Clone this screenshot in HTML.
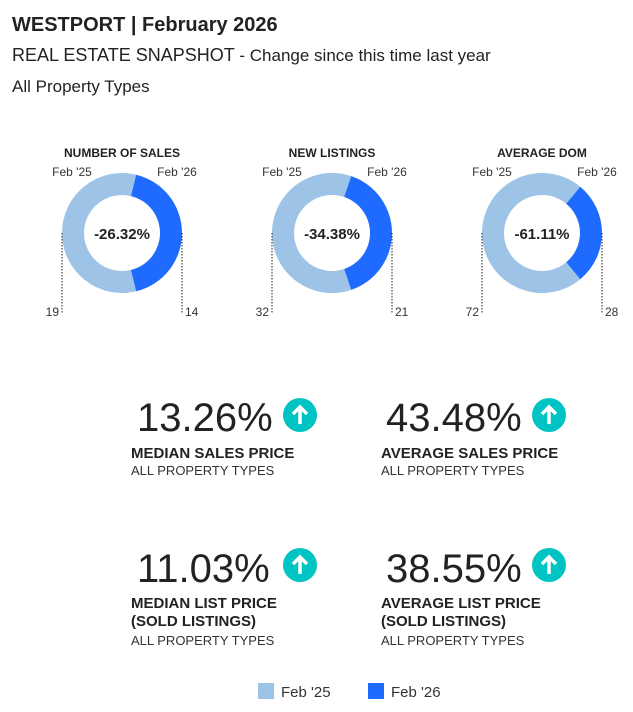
<!DOCTYPE html>
<html><head><meta charset="utf-8">
<style>
body{margin:0;width:633px;height:712px;background:#fff;font-family:"Liberation Sans",Arial,sans-serif;color:#222;position:relative;overflow:hidden}
.a{position:absolute;white-space:nowrap}
.big{font-size:40px;color:#222}
.lbl{font-size:15px;font-weight:bold;color:#222;line-height:18px}
.sub{font-size:13px;color:#333}
.arrow{position:absolute;width:34px;height:34px;border-radius:50%;background:#00c4c4}
</style></head><body>
<div class="a" style="left:12px;top:14px;font-size:20px;font-weight:bold">WESTPORT | February 2026</div>
<div class="a" style="left:12px;top:45px;font-size:18px">REAL ESTATE SNAPSHOT <span style="font-size:17px">- Change since this time last year</span></div>
<div class="a" style="left:12px;top:77px;font-size:17px">All Property Types</div>
<svg id="donuts" width="633" height="340" style="position:absolute;left:0;top:0"></svg>

<div class="a big" style="left:137px;top:396px">13.26%</div>
<div class="arrow" style="left:283px;top:398px"><svg width="34" height="34"><path d="M17 26V9M10 16l7-7 7 7" stroke="#fff" stroke-width="3.5" fill="none"/></svg></div>
<div class="a lbl" style="left:131px;top:445px">MEDIAN SALES PRICE</div>
<div class="a sub" style="left:131px;top:463px">ALL PROPERTY TYPES</div>

<div class="a big" style="left:386px;top:396px">43.48%</div>
<div class="arrow" style="left:532px;top:398px"><svg width="34" height="34"><path d="M17 26V9M10 16l7-7 7 7" stroke="#fff" stroke-width="3.5" fill="none"/></svg></div>
<div class="a lbl" style="left:381px;top:445px">AVERAGE SALES PRICE</div>
<div class="a sub" style="left:381px;top:463px">ALL PROPERTY TYPES</div>

<div class="a big" style="left:137px;top:547px">11.03%</div>
<div class="arrow" style="left:283px;top:548px"><svg width="34" height="34"><path d="M17 26V9M10 16l7-7 7 7" stroke="#fff" stroke-width="3.5" fill="none"/></svg></div>
<div class="a lbl" style="left:131px;top:595px">MEDIAN LIST PRICE<br>(SOLD LISTINGS)</div>
<div class="a sub" style="left:131px;top:633px">ALL PROPERTY TYPES</div>

<div class="a big" style="left:386px;top:547px">38.55%</div>
<div class="arrow" style="left:532px;top:548px"><svg width="34" height="34"><path d="M17 26V9M10 16l7-7 7 7" stroke="#fff" stroke-width="3.5" fill="none"/></svg></div>
<div class="a lbl" style="left:381px;top:595px">AVERAGE LIST PRICE<br>(SOLD LISTINGS)</div>
<div class="a sub" style="left:381px;top:633px">ALL PROPERTY TYPES</div>

<div class="a" style="left:258px;top:683px;font-size:15px;color:#333"><span style="display:inline-block;width:16px;height:16px;background:#9dc3e6;vertical-align:-2px;margin-right:7px"></span>Feb '25</div>
<div class="a" style="left:368px;top:683px;font-size:15px;color:#333"><span style="display:inline-block;width:16px;height:16px;background:#1f6bff;vertical-align:-2px;margin-right:7px"></span>Feb '26</div>

<script>
const titles=["NUMBER OF SALES","NEW LISTINGS","AVERAGE DOM"];
const prevValues=[19,32,72];
const currValues=[14,21,28];
const changeLabels=["-26.32%","-34.38%","-61.11%"];
const svg=document.getElementById('donuts');
const NS="http://www.w3.org/2000/svg";
const cy=233,R=60,r=38;
function mk(tag,attrs){const e=document.createElementNS(NS,tag);for(const k in attrs)e.setAttribute(k,attrs[k]);svg.appendChild(e);return e;}
function pt(a,rad,cx){return [cx+rad*Math.sin(a),cy-rad*Math.cos(a)];}
function arc(cx,a0,a1){const big=(a1-a0)>Math.PI?1:0;const p0=pt(a0,R,cx),p1=pt(a1,R,cx),q1=pt(a1,r,cx),q0=pt(a0,r,cx);
return `M${p0}A${R},${R} 0 ${big} 1 ${p1}L${q1}A${r},${r} 0 ${big} 0 ${q0}Z`;}
titles.forEach((t,i)=>{
  const cx=122+210*i;
  const tot=prevValues[i]+currValues[i];
  const ang=currValues[i]/tot*2*Math.PI;
  const s=Math.PI/2-ang/2,e=Math.PI/2+ang/2;
  let p=mk('path',{d:arc(cx,e,s+2*Math.PI),fill:'#9dc3e6'});
  
  
  p=mk('path',{d:arc(cx,s,e),fill:'#1f6bff'});
  
  
  let tx=mk('text',{x:cx,y:157,'text-anchor':'middle','font-size':12,'font-weight':'bold',fill:'#222'});tx.textContent=t;
  
  
  tx=mk('text',{x:cx-50,y:176,'text-anchor':'middle','font-size':12,fill:'#333'});tx.textContent="Feb '25";
  
  
  tx=mk('text',{x:cx+55,y:176,'text-anchor':'middle','font-size':12,fill:'#333'});tx.textContent="Feb '26";
  
  
  tx=mk('text',{x:cx,y:239,'text-anchor':'middle','font-size':15,'font-weight':'bold',fill:'#222'});tx.textContent=changeLabels[i];
  
  
  mk('line',{x1:cx-R,y1:cy,x2:cx-R,y2:313,stroke:'#222','stroke-dasharray':'1.5,1.5'});
  mk('line',{x1:cx+R,y1:cy,x2:cx+R,y2:313,stroke:'#222','stroke-dasharray':'1.5,1.5'});
  tx=mk('text',{x:cx-R-3,y:316,'text-anchor':'end','font-size':12,fill:'#333'});tx.textContent=prevValues[i];
  
  
  tx=mk('text',{x:cx+R+3,y:316,'text-anchor':'start','font-size':12,fill:'#333'});tx.textContent=currValues[i];
  
  
});
</script>
</body></html>
